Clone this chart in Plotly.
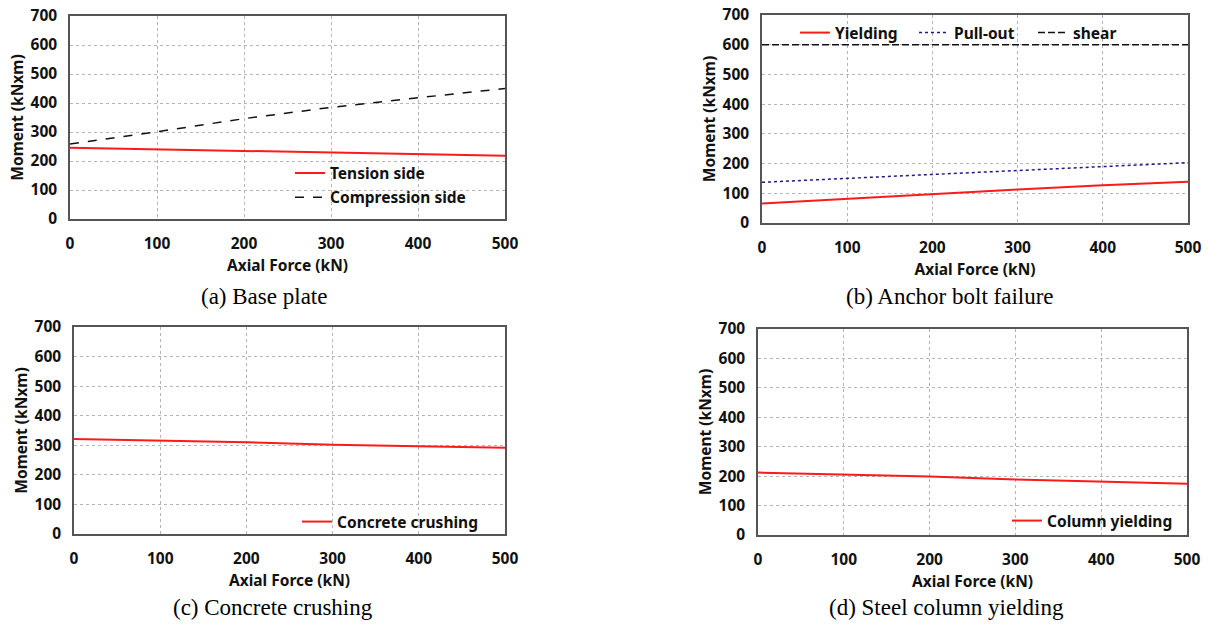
import plotly.graph_objects as go

W, H = 1210, 628

axial = [0, 100, 200, 300, 400, 500]
x_ticks = [0, 100, 200, 300, 400, 500]
y_ticks = [0, 100, 200, 300, 400, 500, 600, 700]

# (a) Base plate
tension_side = [246, 240, 235, 229, 224, 218]
compression_side = [259, 301, 346, 385, 418, 450]
# (b) Anchor bolt failure
yielding = [66, 82, 99, 113, 127, 139]
pull_out = [137, 150, 165, 178, 191, 203]
shear = [600, 600, 600, 600, 600, 600]
# (c) Concrete crushing
concrete_crushing = [321, 316, 310, 302, 298, 292]
# (d) Steel column yielding
column_yielding = [212, 206, 199, 189, 181, 174]

captions = ["(a) Base plate", "(b) Anchor bolt failure",
            "(c) Concrete crushing", "(d) Steel column yielding"]
x_title = "Axial Force (kN)"
y_title = "Moment (kNxm)"

RED = "#ff1a1a"
BLUE = "#1a1a8c"
BLACK = "#111111"

# plot-area pixel boxes: (left, right, top, bottom)
boxes = [(70, 505, 16, 219), (762, 1188, 15, 223),
         (74, 505, 327, 534), (758, 1187, 329, 535)]

def px_x(p):
    return p / W

def px_y(p):
    return 1 - p / H

fig = go.Figure()

def add(panel, y, name, color, dash, width, legend):
    sfx = "" if panel == 0 else str(panel + 1)
    fig.add_trace(go.Scatter(
        x=axial, y=y, name=name, mode="lines",
        line=dict(color=color, dash=dash, width=width),
        xaxis="x" + sfx, yaxis="y" + sfx, legend=legend,
        legendgroup=name))

add(0, tension_side, "Tension side", RED, "solid", 2, "legend")
add(0, compression_side, "Compression side", BLACK, "dash", 1.5, "legend")
add(1, yielding, "Yielding", RED, "solid", 2, "legend2")
add(1, pull_out, "Pull-out", BLUE, "dot", 1.5, "legend2")
add(1, shear, "shear", BLACK, "7px,3px", 1.5, "legend2")
add(2, concrete_crushing, "Concrete crushing", RED, "solid", 2, "legend3")
add(3, column_yielding, "Column yielding", RED, "solid", 2, "legend4")

font_b = dict(family="Noto Sans", size=15.5, color="#111111", weight="bold")

layout = dict(
    width=W, height=H, margin=dict(l=0, r=0, t=0, b=0, autoexpand=False),
    paper_bgcolor="white", plot_bgcolor="white",
    font=font_b, showlegend=True,
)

for i, (l, r, t, b) in enumerate(boxes):
    sfx = "" if i == 0 else str(i + 1)
    common = dict(
        showline=True, mirror=True, linecolor="#555555", linewidth=1.5,
        showgrid=True, gridcolor="#b5b5b5", griddash="dot", gridwidth=1,
        zeroline=False, ticks="outside", tickcolor="rgba(0,0,0,0)",
        tickfont=font_b, fixedrange=True, automargin=False,
    )
    layout["xaxis" + sfx] = dict(
        common, domain=[px_x(l), px_x(r)], range=[0, 500],
        tickvals=x_ticks, ticklen=10,
        anchor="y" + sfx,
        title=dict(text=x_title, font=font_b, standoff=2),
    )
    layout["yaxis" + sfx] = dict(
        common, domain=[px_y(b), px_y(t)], range=[0, 700],
        tickvals=y_ticks, ticklen=8,
        anchor="x" + sfx,
        title=dict(text=y_title, font=font_b, standoff=3),
    )

legend_common = dict(bgcolor="rgba(0,0,0,0)", font=font_b, borderwidth=0,
                     itemwidth=30, xanchor="left", yanchor="middle")
layout["legend"] = dict(legend_common, x=px_x(290), y=px_y(185.5),
                        orientation="v", traceorder="grouped", tracegroupgap=1)
layout["legend2"] = dict(legend_common, x=px_x(795), y=px_y(33),
                         orientation="h", entrywidth=74)
layout["legend3"] = dict(legend_common, x=px_x(297), y=px_y(522),
                         orientation="v")
layout["legend4"] = dict(legend_common, x=px_x(1007), y=px_y(521),
                         orientation="v")

cap_pos = [(264, 297), (950, 297), (273, 607), (946, 607)]
layout["annotations"] = [
    dict(text=c, x=px_x(cx), y=px_y(cy), xref="paper", yref="paper",
         showarrow=False, xanchor="center", yanchor="middle",
         font=dict(family="Liberation Serif", size=23, color="black",
                   weight="normal"))
    for c, (cx, cy) in zip(captions, cap_pos)
]

fig.update_layout(layout)
fig.write_html("out.html",
               config={"displayModeBar": False},
               post_script="document.body.style.margin='0';"
                           "document.body.style.overflow='hidden';")
